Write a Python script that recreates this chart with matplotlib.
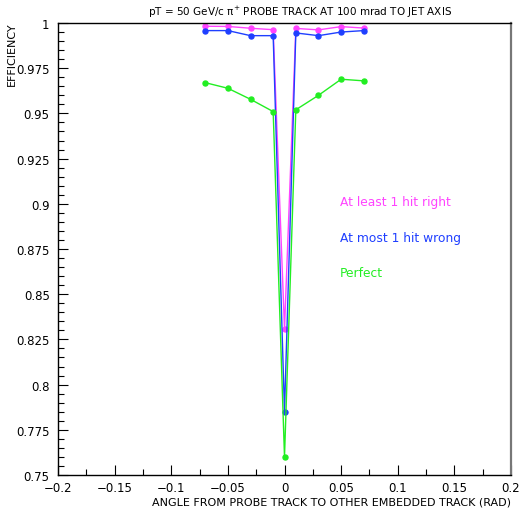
import matplotlib
matplotlib.use('Agg')
import matplotlib.pyplot as plt
from matplotlib.ticker import MultipleLocator, FuncFormatter

# angle between probe and embedded track (rad)
angle = [-0.07, -0.05, -0.03, -0.01, 0.0, 0.01, 0.03, 0.05, 0.07]

at_least_1_right = [0.9982, 0.9981, 0.9971, 0.9963, 0.8307, 0.9970, 0.9962, 0.9980, 0.9972]
at_most_1_wrong = [0.9958, 0.9958, 0.9930, 0.9930, 0.7850, 0.9945, 0.9930, 0.9950, 0.9958]
perfect = [0.9670, 0.9639, 0.9578, 0.9510, 0.7600, 0.9520, 0.9600, 0.9689, 0.9680]

series = [
    ("At least 1 hit right", at_least_1_right, "#ff44ff"),
    ("At most 1 hit wrong", at_most_1_wrong, "#1f3fff"),
    ("Perfect", perfect, "#22ee22"),
]

plt.rcParams['font.family'] = ['DejaVu Sans']

fig = plt.figure(figsize=(5.19, 5.10), dpi=100)
ax = fig.add_axes([58 / 519, 1 - 476 / 510, 453 / 519, 452 / 510])

for name, vals, col in series:
    ax.plot(angle, vals, color=col, lw=1.0, marker='o', ms=3.6)

ax.set_xlim(-0.2, 0.2)
ax.set_ylim(0.75, 1.0)
ax.xaxis.set_major_locator(MultipleLocator(0.05))
ax.xaxis.set_minor_locator(MultipleLocator(0.025))
ax.yaxis.set_major_locator(MultipleLocator(0.025))
ax.yaxis.set_minor_locator(MultipleLocator(0.005))

def fmt(v, pos):
    s = ('%.3f' % v).rstrip('0').rstrip('.')
    if s in ('-0', ''):
        s = '0'
    return s.replace('-', '\u2212')

ax.xaxis.set_major_formatter(FuncFormatter(fmt))
ax.yaxis.set_major_formatter(FuncFormatter(fmt))
ax.tick_params(which='both', direction='in', top=False, right=False, labelsize=8.5)
ax.tick_params(which='major', length=7, width=0.8)
ax.tick_params(which='minor', length=4, width=0.8)
ax.tick_params(axis='x', pad=4)
ax.tick_params(axis='y', pad=6)

for sp in ax.spines.values():
    sp.set_linewidth(1.0)
ax.spines['right'].set_color('#777777')
ax.spines['right'].set_linewidth(1.6)

fig.text(300 / 519, 1 - 12 / 510, "pT = 50 GeV/c \u03c0$^{+}$ PROBE TRACK AT 100 mrad TO JET AXIS",
         ha='center', va='center', fontsize=7.5)
fig.text(511 / 519, 1 - 503 / 510, "ANGLE FROM PROBE TRACK TO OTHER EMBEDDED TRACK (RAD)",
         ha='right', va='center', fontsize=8.0)
fig.text(12 / 519, 1 - 22 / 510, "EFFICIENCY", rotation=90, ha='center', va='top',
         fontsize=8.0)

label_y = [0.901, 0.8816, 0.862]
for (name, vals, col), yy in zip(series, label_y):
    ax.text(0.049, yy, name, color=col, fontsize=8.8, va='center', ha='left')

fig.savefig('out.png', dpi=100)
